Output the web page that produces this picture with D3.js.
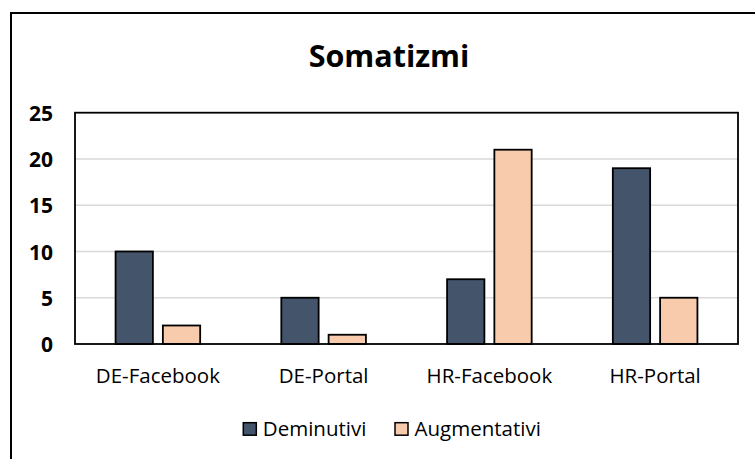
<!DOCTYPE html>
<html><head><meta charset="utf-8">
<script src="https://cdn.jsdelivr.net/npm/d3@7"></script>
<style>body{margin:0;background:#fff;}svg{display:block;}</style>
</head><body>
<svg id="c" width="755" height="459"></svg>
<script>
const categories = ["DE-Facebook", "DE-Portal", "HR-Facebook", "HR-Portal"];
const seriesNames = ["Deminutivi", "Augmentativi"];
const deminutivi = [10, 5, 7, 19];
const augmentativi = [2, 1, 21, 5];
const yTicks = [0, 5, 10, 15, 20, 25];
const title = "Somatizmi";
const colors = ["#44546A", "#F8CBAD"];

const svg = d3.select("#c");
const font = "'Open Sans', sans-serif";

// outer border
svg.append("rect").attr("x", 11).attr("y", 13).attr("width", 800).attr("height", 500)
  .attr("fill", "#fff").attr("stroke", "#000").attr("stroke-width", 2);

const L = 75, R = 738, T = 112.7, B = 344;
const y = d3.scaleLinear().domain([0, 25]).range([B, T]);
const x0 = d3.scaleBand().domain(categories).range([L, R]).padding(0);
const groupW = 84.6;
const x1 = d3.scaleBand().domain(seriesNames).range([0, groupW]).paddingInner(0.211).paddingOuter(0);

// gridlines
svg.append("g").selectAll("line").data(yTicks.filter(d => d > 0 && d < 25)).join("line")
  .attr("x1", L).attr("x2", R).attr("y1", d => y(d)).attr("y2", d => y(d))
  .attr("stroke", "#d9d9d9").attr("stroke-width", 1.5);

const data = categories.map((c, i) => ({c, vals: [deminutivi[i], augmentativi[i]]}));
const g = svg.append("g").selectAll("g").data(data).join("g")
  .attr("transform", d => `translate(${x0(d.c) + (x0.bandwidth() - groupW) / 2},0)`);
g.selectAll("rect").data(d => d.vals.map((v, j) => ({s: seriesNames[j], v, j}))).join("rect")
  .attr("x", d => x1(d.s)).attr("width", x1.bandwidth())
  .attr("y", d => y(d.v)).attr("height", d => y(0) - y(d.v))
  .attr("fill", d => colors[d.j]).attr("stroke", "#000").attr("stroke-width", 1.8);

// plot border
svg.append("rect").attr("x", L).attr("y", T).attr("width", R - L).attr("height", B - T)
  .attr("fill", "none").attr("stroke", "#000").attr("stroke-width", 1.8);

// y axis labels
const yAxis = d3.axisLeft(y).tickValues(yTicks).tickSize(0).tickPadding(0);
const ya = svg.append("g").attr("transform", `translate(53,0)`).call(yAxis);
ya.select(".domain").remove();
ya.selectAll("text").attr("font-family", font).attr("font-weight", "bold")
  .attr("font-size", 21).attr("fill", "#000").attr("dy", "0.36em");

// x axis labels
const xAxis = d3.axisBottom(x0).tickSize(0).tickPadding(0);
const xa = svg.append("g").attr("transform", `translate(0,383)`).call(xAxis);
xa.select(".domain").remove();
xa.selectAll("text").attr("font-family", font).attr("font-size", 20.5).attr("fill", "#000").attr("dy", 0);

// title
svg.append("text").attr("x", 389).attr("y", 67).attr("text-anchor", "middle")
  .attr("font-family", font).attr("font-weight", "bold").attr("font-size", 30.5).text(title);

// legend
const legX = [243.3, 395];
const lg = svg.append("g").selectAll("g").data(seriesNames).join("g")
  .attr("transform", (d, i) => `translate(${legX[i]},0)`);
lg.append("rect").attr("x", 0).attr("y", 422.7).attr("width", 13).attr("height", 12.5)
  .attr("fill", (d, i) => colors[i]).attr("stroke", "#000").attr("stroke-width", 1.5);
lg.append("text").attr("x", 19.5).attr("y", 435.5).attr("font-family", font).attr("font-size", 20.5)
  .attr("fill", "#000").text(d => d);
</script>
</body></html>
